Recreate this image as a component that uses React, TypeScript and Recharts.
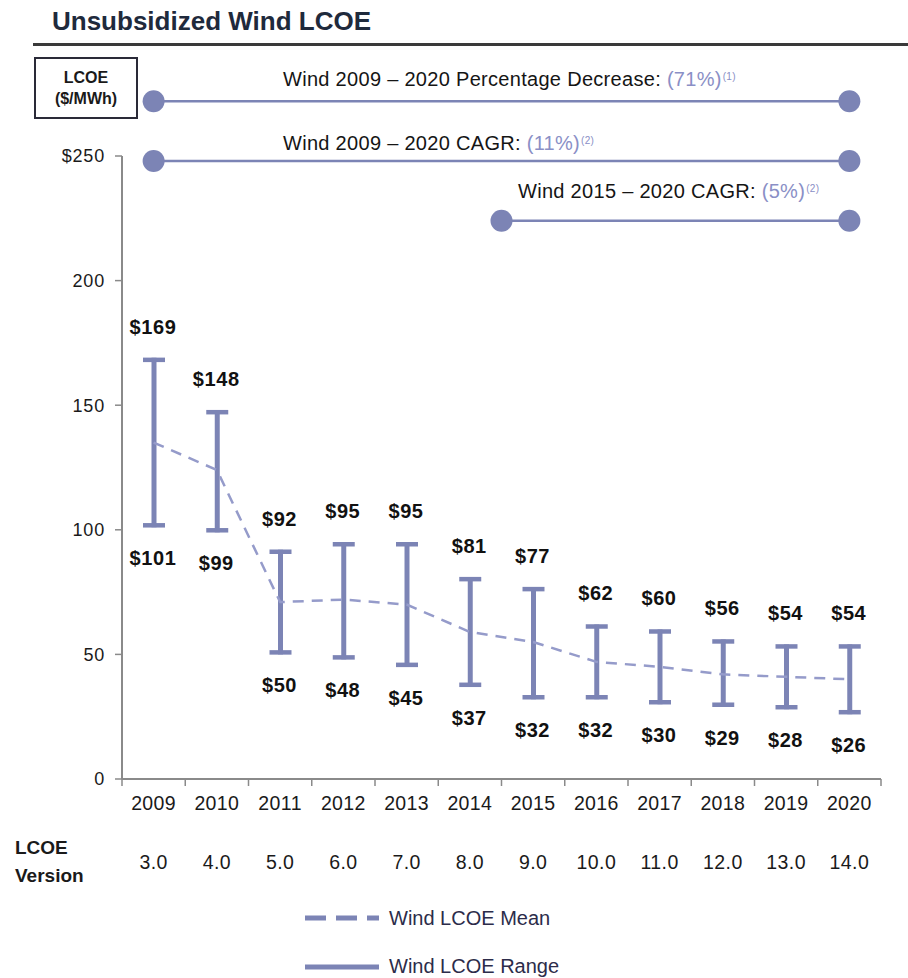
import React from 'react';
import {
  ComposedChart,
  Bar,
  Line,
  XAxis,
  YAxis,
  ReferenceLine,
  ReferenceDot,
} from 'recharts';

// ---------- data ----------
const years = ['2009', '2010', '2011', '2012', '2013', '2014', '2015', '2016', '2017', '2018', '2019', '2020'];
const versions = ['3.0', '4.0', '5.0', '6.0', '7.0', '8.0', '9.0', '10.0', '11.0', '12.0', '13.0', '14.0'];
const highs = [169, 148, 92, 95, 95, 81, 77, 62, 60, 56, 54, 54];
const lows = [101, 99, 50, 48, 45, 37, 32, 32, 30, 29, 28, 26];
const means = [135, 124, 71, 72, 70, 59, 55, 47, 45, 42, 41, 40];
const yTicks = [0, 50, 100, 150, 200, 250];

const annotationLabels = [
  'Wind 2009 \u2013 2020 Percentage Decrease: ',
  'Wind 2009 \u2013 2020 CAGR: ',
  'Wind 2015 \u2013 2020 CAGR: ',
];
const annotationValues = ['(71%)', '(11%)', '(5%)'];
const annotationNotes = ['(1)', '(2)', '(2)'];
// positions on a 0..12 category-index scale (0.5 = centre of 2009)
const annotationStart = [0.5, 0.5, 6.0];
const annotationEnd = [11.5, 11.5, 11.5];
const annotationLevel = [272, 248, 224];

const data = years.map((year, i) => ({
  year,
  pos: i + 0.5,
  version: versions[i],
  high: highs[i],
  low: lows[i],
  span: highs[i] - lows[i],
  mean: means[i],
}));

// ---------- styles ----------
const FONT = '"Liberation Sans", Arial, sans-serif';
const BAR = '#7c84b5';
const MEAN = '#959bca';
const ACCENT = '#8a8fc6';
const AXIS = '#8a8a8a';
const W = 908;
const H = 978;
const M = { top: 156, right: 27, left: 0, bottom: 99 };
const Y_W = 122;

const annotationTextPos = [
  { left: 283, top: 65 },
  { left: 283, top: 129 },
  { left: 518, top: 177 },
];

const RangeShape = (props: any) => {
  const { x, y, width, height, payload } = props;
  if (x == null || y == null) return null;
  const cx = x + width / 2;
  const cap = 11;
  const top = y;
  const bottom = y + height;
  return (
    <g>
      <line x1={cx} x2={cx} y1={top} y2={bottom} stroke={BAR} strokeWidth={5} />
      <line x1={cx - cap} x2={cx + cap} y1={top + 2} y2={top + 2} stroke={BAR} strokeWidth={4.5} />
      <line x1={cx - cap} x2={cx + cap} y1={bottom - 2} y2={bottom - 2} stroke={BAR} strokeWidth={4.5} />
      <text
        x={cx - 1}
        y={top - 24}
        textAnchor="middle"
        fontFamily={FONT}
        fontWeight="bold"
        fontSize={20}
        letterSpacing={0.6}
        fill="#111"
      >
        ${payload.high}
      </text>
      <text
        x={cx - 1}
        y={bottom + 38}
        textAnchor="middle"
        fontFamily={FONT}
        fontWeight="bold"
        fontSize={20}
        letterSpacing={0.6}
        fill="#111"
      >
        ${payload.low}
      </text>
    </g>
  );
};

const XTick = (props: any) => {
  const { x, y, payload, index } = props;
  const half = payload && payload.offset ? payload.offset : (W - Y_W - M.right) / years.length / 2;
  const i = typeof index === 'number' ? index : years.indexOf(payload.value);
  return (
    <g>
      <line x1={x - half} x2={x - half} y1={y} y2={y + 7} stroke={AXIS} strokeWidth={1.5} />
      {i === years.length - 1 && (
        <line x1={x + half} x2={x + half} y1={y} y2={y + 7} stroke={AXIS} strokeWidth={1.5} />
      )}
      <text x={x} y={y + 31} textAnchor="middle" fontFamily={FONT} fontSize={19.5} letterSpacing={0.4} fill="#1a1a1a">
        {payload.value}
      </text>
      <text x={x} y={y + 90} textAnchor="middle" fontFamily={FONT} fontSize={19.5} letterSpacing={0.4} fill="#1a1a1a">
        {versions[i]}
      </text>
    </g>
  );
};

export default function App() {
  return (
    <div style={{ position: 'absolute', left: 0, top: 0, width: W, height: H, background: '#fff', fontFamily: FONT }}>
      {/* title */}
      <div style={{ position: 'absolute', left: 52, top: 6, fontSize: 26, fontWeight: 'bold', color: '#1f2a3c', whiteSpace: 'nowrap' }}>
        Unsubsidized Wind LCOE
      </div>
      <div style={{ position: 'absolute', left: 33, top: 43, width: W - 33, height: 3, background: '#3a3a3a' }} />

      {/* unit box */}
      <div
        style={{
          position: 'absolute',
          left: 34,
          top: 57,
          width: 100,
          height: 58,
          border: '2px solid #2a2a38',
          display: 'flex',
          flexDirection: 'column',
          alignItems: 'center',
          justifyContent: 'center',
          fontWeight: 'bold',
          fontSize: 16,
          lineHeight: '21px',
          color: '#1a1a1a',
        }}
      >
        <div>LCOE</div>
        <div>($/MWh)</div>
      </div>

      <ComposedChart width={W} height={H} data={data} margin={M} style={{ position: 'absolute', left: 0, top: 0 }}>
        <XAxis
          dataKey="year"
          height={100}
          axisLine={{ stroke: AXIS, strokeWidth: 2 }}
          tickLine={false}
          tickSize={0}
          tickMargin={0}
          interval={0}
          tick={<XTick />}
        />
        <XAxis
          xAxisId="pos"
          dataKey="pos"
          type="number"
          scale="linear"
          domain={[0, years.length]}
          allowDataOverflow
          hide
        />
        <YAxis
          domain={[0, 250]}
          ticks={yTicks}
          width={Y_W}
          axisLine={{ stroke: AXIS, strokeWidth: 2 }}
          tickLine={{ stroke: AXIS, strokeWidth: 1.5 }}
          tickSize={7}
          tickMargin={10}
          tickFormatter={(v: number) => (v === 250 ? '$250' : String(v))}
          tick={{ fontSize: 18, fill: '#1a1a1a', fontFamily: FONT, letterSpacing: 0.8 }}
        />
        <Bar dataKey="low" stackId="range" fill="none" barSize={22} isAnimationActive={false} />
        <Bar dataKey="span" stackId="range" barSize={22} shape={<RangeShape />} isAnimationActive={false} />
        <Line
          type="linear"
          dataKey="mean"
          stroke={MEAN}
          strokeWidth={2.5}
          strokeDasharray="11 8"
          dot={false}
          activeDot={false}
          isAnimationActive={false}
        />
        {annotationLevel.map((lvl, i) => (
          <ReferenceLine
            key={'l' + i}
            xAxisId="pos"
            segment={[
              { x: annotationStart[i], y: lvl },
              { x: annotationEnd[i], y: lvl },
            ]}
            stroke={BAR}
            strokeWidth={2.5}
            ifOverflow="visible"
          />
        ))}
        {annotationLevel.map((lvl, i) => (
          <ReferenceDot key={'a' + i} xAxisId="pos" x={annotationStart[i]} y={lvl} r={11} fill={BAR} stroke="none" ifOverflow="visible" />
        ))}
        {annotationLevel.map((lvl, i) => (
          <ReferenceDot key={'b' + i} xAxisId="pos" x={annotationEnd[i]} y={lvl} r={11} fill={BAR} stroke="none" ifOverflow="visible" />
        ))}
      </ComposedChart>

      {/* annotation texts */}
      {annotationLabels.map((lab, i) => (
        <div
          key={'t' + i}
          style={{
            position: 'absolute',
            left: annotationTextPos[i].left,
            top: annotationTextPos[i].top,
            fontSize: 20,
            lineHeight: '24px',
            letterSpacing: 0.3,
            color: '#151515',
            whiteSpace: 'nowrap',
          }}
        >
          {lab}
          <span style={{ color: ACCENT }}>{annotationValues[i]}</span>
          <sup style={{ color: ACCENT, fontSize: 10, verticalAlign: 6, marginLeft: 1 }}>{annotationNotes[i]}</sup>
        </div>
      ))}

      {/* bottom-left row labels */}
      <div style={{ position: 'absolute', left: 15, top: 834, fontSize: 19, fontWeight: 'bold', lineHeight: '28px', color: '#1a1a1a' }}>
        <div>LCOE</div>
        <div>Version</div>
      </div>

      {/* legend */}
      <div style={{ position: 'absolute', left: 305, top: 904, width: 400, height: 74 }}>
        <svg width={80} height={74} style={{ position: 'absolute', left: 0, top: 0 }}>
          <line x1={0} x2={74} y1={14} y2={14} stroke={BAR} strokeWidth={5} strokeDasharray="21 10" />
          <line x1={0} x2={74} y1={63} y2={63} stroke={BAR} strokeWidth={5} />
        </svg>
        <div style={{ position: 'absolute', left: 84, top: 1, fontSize: 20, lineHeight: '26px', color: '#2c2c4a', whiteSpace: 'nowrap' }}>
          Wind LCOE Mean
        </div>
        <div style={{ position: 'absolute', left: 84, top: 49, fontSize: 20, lineHeight: '26px', color: '#2c2c4a', whiteSpace: 'nowrap' }}>
          Wind LCOE Range
        </div>
      </div>
    </div>
  );
}
